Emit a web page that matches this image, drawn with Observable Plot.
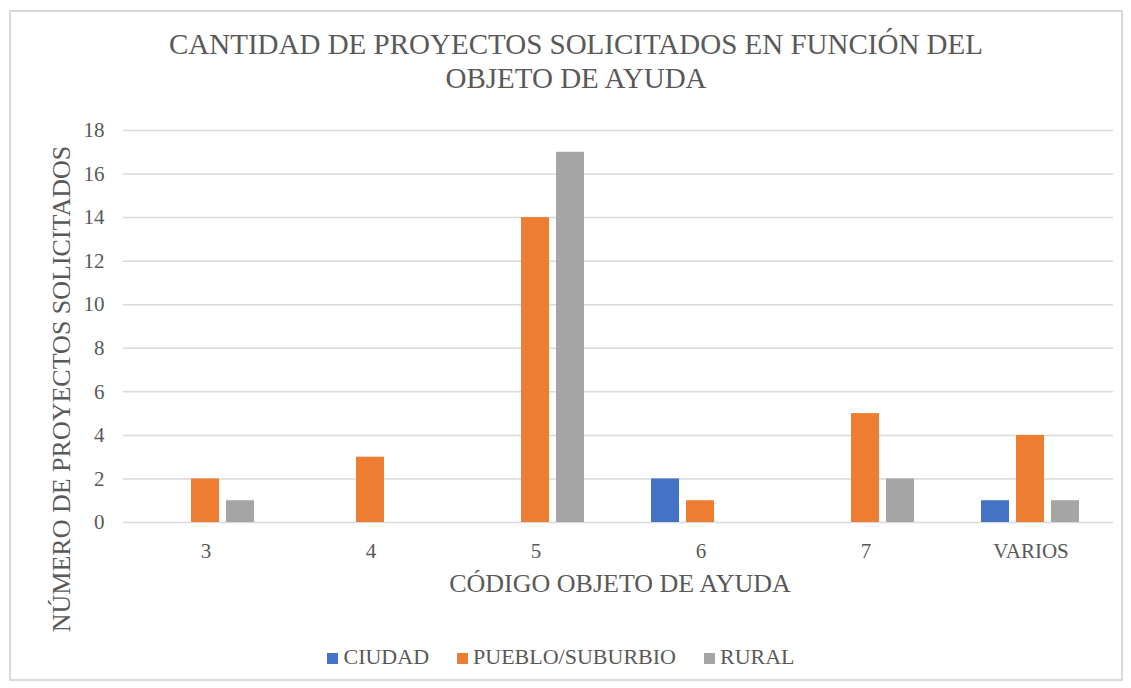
<!DOCTYPE html>
<html><head><meta charset="utf-8">
<script src="https://cdn.jsdelivr.net/npm/d3@7"></script>
<script src="https://cdn.jsdelivr.net/npm/@observablehq/plot@0.6"></script>
<style>
body{margin:0;background:#fff;}
#wrap{position:relative;width:1131px;height:688px;font-family:"Liberation Serif","Tinos","Times New Roman","DejaVu Serif",serif;color:#595959;overflow:hidden;}
#border{position:absolute;left:9px;top:10px;width:1110px;height:667px;border:2px solid #d9d9d9;}
.t{position:absolute;white-space:nowrap;}
#title{left:0;width:1152px;top:27px;text-align:center;font-size:29px;line-height:34px;}
#xlabel{left:420px;width:400px;top:569px;text-align:center;font-size:26px;}
#ylabel{left:62px;top:389px;font-size:26px;transform:translate(-50%,-50%) rotate(-90deg);}
#legend{left:0;top:644px;width:1122px;text-align:center;font-size:22px;}
#legend span.sw{display:inline-block;width:11px;height:11px;margin-right:5px;vertical-align:0px;}
#legend span.it{margin:0 14px;}
#plot{position:absolute;left:0;top:0;}
</style></head>
<body><div id="wrap">
<div id="border"></div>
<div id="plot"></div>
<div class="t" id="title">CANTIDAD DE PROYECTOS SOLICITADOS EN FUNCIÓN DEL<br>OBJETO DE AYUDA</div>
<div class="t" id="xlabel">CÓDIGO OBJETO DE AYUDA</div>
<div class="t" id="ylabel">NÚMERO DE PROYECTOS SOLICITADOS</div>
<div class="t" id="legend"></div>
</div>
<script>
const categories = ["3", "4", "5", "6", "7", "VARIOS"];
const series = ["CIUDAD", "PUEBLO/SUBURBIO", "RURAL"];
const colors = ["#4472C4", "#ED7D31", "#A5A5A5"];
const ciudad = [0, 0, 0, 2, 0, 1];
const pueblo = [2, 3, 14, 1, 5, 4];
const rural = [1, 0, 17, 0, 2, 1];
const yTicks = [0, 2, 4, 6, 8, 10, 12, 14, 16, 18];

const values = [ciudad, pueblo, rural];
const data = [];
categories.forEach((c, i) => series.forEach((s, j) => data.push({cat: c, series: s, value: values[j][i]})));

const chart = Plot.plot({
  width: 1131, height: 688,
  marginTop: 130, marginBottom: 166, marginLeft: 123, marginRight: 18,
  style: {fontFamily: "'Liberation Serif', Tinos, 'Times New Roman', 'DejaVu Serif', serif", fontSize: "21px", color: "#595959", background: "transparent"},
  fx: {domain: categories, padding: 0, axis: "bottom", label: null, tickSize: 0, tickPadding: 21},
  x: {domain: series, axis: null, paddingInner: 0.194, paddingOuter: 0.889},
  y: {domain: [0, 18], ticks: yTicks, tickSize: 0, tickPadding: 19, label: null, tickFormat: d => String(d)},
  color: {domain: series, range: colors},
  marks: [
    Plot.ruleY(yTicks, {stroke: "#d9d9d9", strokeWidth: 1.5}),
    Plot.barY(data, {fx: "cat", x: "series", y: "value", fill: "series"})
  ]
});
document.getElementById("plot").appendChild(chart);

const lg = document.getElementById("legend");
series.forEach((s, j) => {
  const it = document.createElement("span");
  it.className = "it";
  it.innerHTML = `<span class="sw" style="background:${colors[j]}"></span>${s}`;
  lg.appendChild(it);
});
</script>
</body></html>
